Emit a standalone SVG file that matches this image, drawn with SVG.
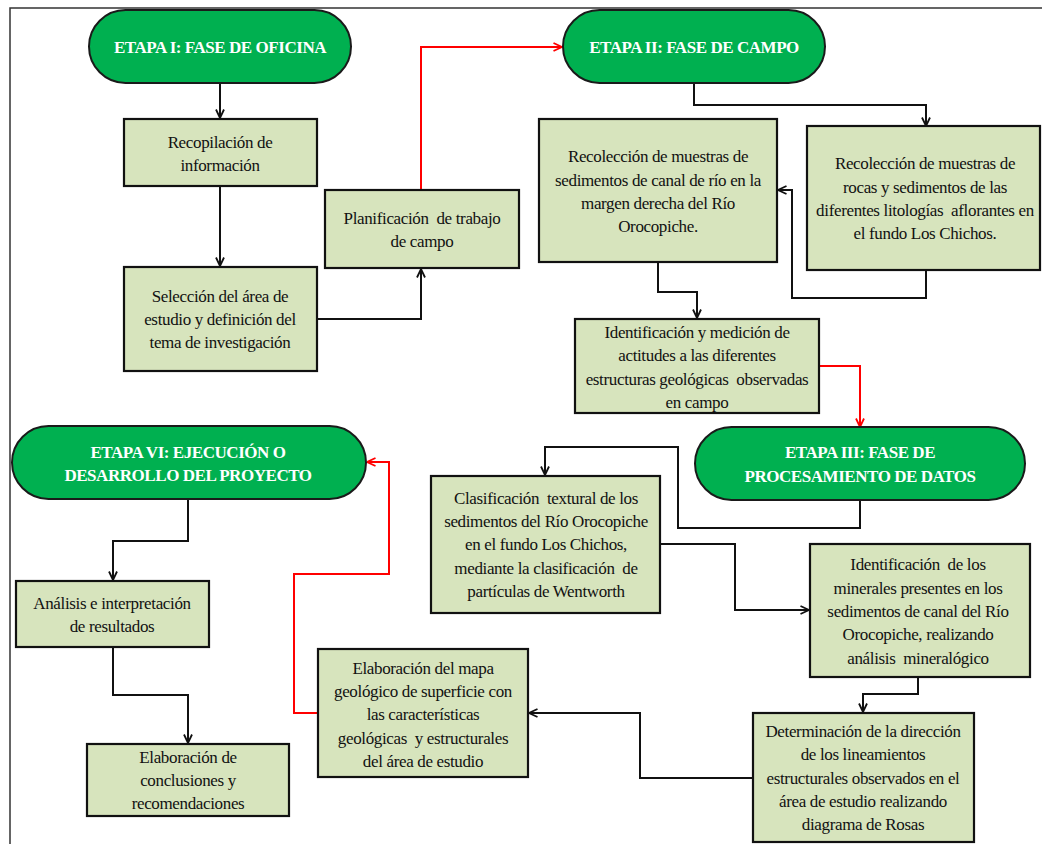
<svg xmlns="http://www.w3.org/2000/svg" width="1042" height="844" viewBox="0 0 1042 844">
<style>
.pill{fill:#00B050;stroke:#1a1a1a;stroke-width:2}
.box{fill:#D7E4BD;stroke:#111;stroke-width:2.2}
.ht{font-family:"Liberation Serif","Times New Roman",serif;font-weight:bold;font-size:17px;letter-spacing:-0.45px;fill:#fff;text-anchor:middle}
.bt{font-family:"Liberation Serif","Times New Roman",serif;font-size:17px;letter-spacing:-0.35px;fill:#111;text-anchor:middle}
.c{fill:none;stroke:#111;stroke-width:2}
.r{fill:none;stroke:#FF0000;stroke-width:2}
</style>
<defs>
<marker id="ab" viewBox="0 0 10 10" refX="9.5" refY="5" markerWidth="10" markerHeight="10" markerUnits="userSpaceOnUse" orient="auto"><path d="M1,1 L9.5,5 L1,9" fill="none" stroke="#111" stroke-width="1.8"/></marker>
<marker id="ar" viewBox="0 0 10 10" refX="9.5" refY="5" markerWidth="10" markerHeight="10" markerUnits="userSpaceOnUse" orient="auto"><path d="M1,1 L9.5,5 L1,9" fill="none" stroke="#FF0000" stroke-width="1.8"/></marker>
</defs>
<rect width="1042" height="844" fill="#fff"/>
<path d="M10,844 L10,8 L1042,8" fill="none" stroke="#333" stroke-width="1.5"/>
<g id="connectors">
<path class="c" d="M220,83 L220,118" marker-end="url(#ab)"/>
<path class="c" d="M220,186 L220,266" marker-end="url(#ab)"/>
<path class="c" d="M317,319 L421,319 L421,269" marker-end="url(#ab)"/>
<path class="r" d="M421,190 L421,47 L562,47" marker-end="url(#ar)"/>
<path class="c" d="M694,83 L694,105 L926,105 L926,126" marker-end="url(#ab)"/>
<path class="c" d="M926,270 L926,298 L792,298 L792,190 L778,190" marker-end="url(#ab)"/>
<path class="c" d="M658,262 L658,292 L697,292 L697,318" marker-end="url(#ab)"/>
<path class="r" d="M819,366 L860,366 L860,427" marker-end="url(#ar)"/>
<path class="c" d="M860,500 L860,528 L678,528 L678,447 L545,447 L545,475" marker-end="url(#ab)"/>
<path class="c" d="M660,544 L735,544 L735,610 L809,610" marker-end="url(#ab)"/>
<path class="c" d="M918,677 L918,694 L863,694 L863,712" marker-end="url(#ab)"/>
<path class="c" d="M753,778 L640,778 L640,713 L529,713" marker-end="url(#ab)"/>
<path class="r" d="M318,713 L294,713 L294,574 L389,574 L389,462 L367,462" marker-end="url(#ar)"/>
<path class="c" d="M188,499 L188,541 L113,541 L113,580" marker-end="url(#ab)"/>
<path class="c" d="M113,647 L113,695 L188,695 L188,743" marker-end="url(#ab)"/>
</g>
<g id="etapa1">
<rect class="pill" x="89" y="10" width="262" height="73" rx="36.5"/>
<text class="ht" x="220" y="53">ETAPA I: FASE DE OFICINA</text>
</g>
<g id="recopilacion">
<rect class="box" x="124" y="119" width="193" height="67"/>
<text class="bt" x="220" y="148">Recopilación de</text>
<text class="bt" x="220" y="171">información</text>
</g>
<g id="seleccion">
<rect class="box" x="124" y="267" width="193" height="104"/>
<text class="bt" x="220" y="302">Selección del área de</text>
<text class="bt" x="220" y="325">estudio y definición del</text>
<text class="bt" x="220" y="348">tema de investigación</text>
</g>
<g id="planificacion">
<rect class="box" x="325" y="190" width="194" height="78"/>
<text class="bt" x="422" y="224" xml:space="preserve">Planificación  de trabajo</text>
<text class="bt" x="422" y="247">de campo</text>
</g>
<g id="etapa2">
<rect class="pill" x="563" y="10" width="262" height="73" rx="36.5"/>
<text class="ht" x="694" y="53">ETAPA II: FASE DE CAMPO</text>
</g>
<g id="recoleccion-sed">
<rect class="box" x="539" y="119" width="238" height="143"/>
<text class="bt" x="658" y="162">Recolección de muestras de</text>
<text class="bt" x="658" y="186">sedimentos de canal de río en la</text>
<text class="bt" x="658" y="209">margen derecha del Río</text>
<text class="bt" x="658" y="232">Orocopiche.</text>
</g>
<g id="recoleccion-rocas">
<rect class="box" x="807" y="126" width="233" height="144"/>
<text class="bt" x="925" y="169">Recolección de muestras de</text>
<text class="bt" x="925" y="193">rocas y sedimentos de las</text>
<text class="bt" x="925" y="216" xml:space="preserve">diferentes litologías  aflorantes en</text>
<text class="bt" x="925" y="239">el fundo Los Chichos.</text>
</g>
<g id="identificacion-actitudes">
<rect class="box" x="575" y="319" width="244" height="94"/>
<text class="bt" x="697" y="338">Identificación y medición de</text>
<text class="bt" x="697" y="361">actitudes a las diferentes</text>
<text class="bt" x="697" y="385" xml:space="preserve">estructuras geológicas  observadas</text>
<text class="bt" x="697" y="408">en campo</text>
</g>
<g id="etapa3">
<rect class="pill" x="695" y="427" width="330" height="73" rx="36.5"/>
<text class="ht" x="860" y="458">ETAPA III: FASE DE</text>
<text class="ht" x="860" y="482">PROCESAMIENTO DE DATOS</text>
</g>
<g id="clasificacion">
<rect class="box" x="431" y="476" width="229" height="137"/>
<text class="bt" x="546" y="504" xml:space="preserve">Clasificación  textural de los</text>
<text class="bt" x="546" y="527">sedimentos del Río Orocopiche</text>
<text class="bt" x="546" y="550">en el fundo Los Chichos,</text>
<text class="bt" x="546" y="574" xml:space="preserve">mediante la clasificación  de</text>
<text class="bt" x="546" y="597">partículas de Wentworth</text>
</g>
<g id="identificacion-minerales">
<rect class="box" x="810" y="544" width="220" height="133"/>
<text class="bt" x="918" y="570" xml:space="preserve">Identificación  de los</text>
<text class="bt" x="918" y="594">minerales presentes en los</text>
<text class="bt" x="918" y="617">sedimentos de canal del Río</text>
<text class="bt" x="918" y="640">Orocopiche, realizando</text>
<text class="bt" x="918" y="664" xml:space="preserve">análisis  mineralógico</text>
</g>
<g id="determinacion">
<rect class="box" x="753" y="713" width="221" height="129"/>
<text class="bt" x="863" y="737">Determinación de la dirección</text>
<text class="bt" x="863" y="760">de los lineamientos</text>
<text class="bt" x="863" y="784">estructurales observados en el</text>
<text class="bt" x="863" y="807">área de estudio realizando</text>
<text class="bt" x="863" y="830">diagrama de Rosas</text>
</g>
<g id="elaboracion-mapa">
<rect class="box" x="318" y="649" width="210" height="128"/>
<text class="bt" x="423" y="674">Elaboración del mapa</text>
<text class="bt" x="423" y="697">geológico de superficie con</text>
<text class="bt" x="423" y="720">las características</text>
<text class="bt" x="423" y="744" xml:space="preserve">geológicas  y estructurales</text>
<text class="bt" x="423" y="767">del área de estudio</text>
</g>
<g id="etapa6">
<rect class="pill" x="12" y="426" width="354" height="73" rx="36.5"/>
<text class="ht" x="188" y="458">ETAPA VI: EJECUCIÓN O</text>
<text class="ht" x="188" y="481">DESARROLLO DEL PROYECTO</text>
</g>
<g id="analisis">
<rect class="box" x="16" y="581" width="193" height="66"/>
<text class="bt" x="112" y="609">Análisis e interpretación</text>
<text class="bt" x="112" y="632">de resultados</text>
</g>
<g id="conclusiones">
<rect class="box" x="87" y="744" width="202" height="72"/>
<text class="bt" x="188" y="763">Elaboración de</text>
<text class="bt" x="188" y="786">conclusiones y</text>
<text class="bt" x="188" y="809">recomendaciones</text>
</g>
</svg>
